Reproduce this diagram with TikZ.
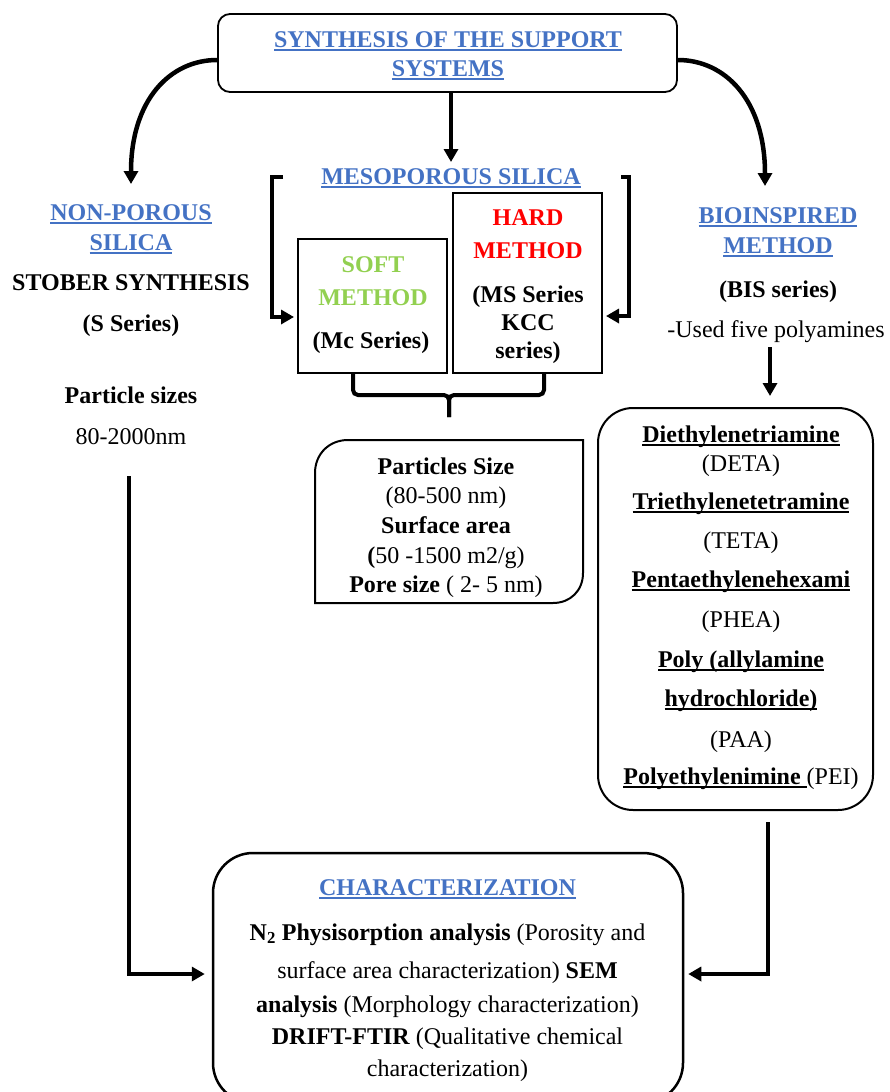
\documentclass[tikz,border=0pt]{standalone}
\usepackage{fontspec}
\setmainfont{Liberation Serif}
\usetikzlibrary{arrows.meta}
\definecolor{hblue}{RGB}{68,114,196}
\definecolor{sgreen}{RGB}{146,208,80}
\definecolor{hred}{RGB}{255,0,0}
\newsavebox{\myulbox}
\newcommand{\myul}[1]{\sbox{\myulbox}{#1}\rlap{\rule[-3.5pt]{\wd\myulbox}{1.6pt}}\usebox{\myulbox}}
\tikzset{
  txt/.style={font=\fontsize{24}{30}\selectfont, inner sep=0pt, anchor=base},
  bf/.style={font=\fontsize{24}{30}\selectfont\bfseries, inner sep=0pt, anchor=base},
  head/.style={bf, text=hblue},
  arr/.style={line width=4.5pt, line join=miter, -{Triangle[length=13pt,width=14pt]}},
  box/.style={draw, line width=1.8pt, inner sep=0pt},
}
\begin{document}
\begin{tikzpicture}[x=1pt,y=-1pt]
\clip (0,0) rectangle (889,1092);
\useasboundingbox (0,0) rectangle (889,1092);

% top box
\node[box, rounded corners=12pt, minimum width=459pt, minimum height=78pt] (top) at (447.5,53) {};
\node[head] (t1) at (448,47) {\myul{SYNTHESIS OF THE SUPPORT}};
\node[head] (t2) at (448,76) {\myul{SYSTEMS}};

% left column
\node[head] (np1) at (131,220) {\myul{NON-POROUS}};
\node[head] (np2) at (131,250) {\myul{SILICA}};
\node[bf] (np3) at (131,290) {STOBER SYNTHESIS};
\node[bf] (np4) at (131,331) {(S Series)};
\node[bf] (np5) at (131,403) {Particle sizes};
\node[txt] (np6) at (131,444) {80-2000nm};

% right column
\node[head] (bi1) at (778,223) {\myul{BIOINSPIRED}};
\node[head] (bi2) at (778,253) {\myul{METHOD}};
\node[bf] (bi3) at (778,297) {(BIS series)};
\node[txt] (bi4) at (776,337) {-Used five polyamines};

% mesoporous
\node[head] (meso) at (451,184) {\myul{MESOPOROUS SILICA}};
\node[box, line width=2pt, minimum width=149pt, minimum height=134pt] (soft) at (372.5,306) {};
\node[bf, text=sgreen] (s1) at (373,272) {SOFT};
\node[bf, text=sgreen] (s2) at (373,305) {METHOD};
\node[bf] (s3) at (371,348) {(Mc Series)};
\node[box, line width=2pt, minimum width=149pt, minimum height=180pt] (hard) at (527.5,283) {};
\node[bf, text=hred] (h1) at (528,225) {HARD};
\node[bf, text=hred] (h2) at (528,258) {METHOD};
\node[bf] (h3) at (528,302) {(MS Series};
\node[bf] (h4) at (528,330) {KCC};
\node[bf] (h5) at (528,358) {series)};

% brace
\draw[line width=4pt, rounded corners=5pt] (353,373) -- (353,395) -- (449,395) -- (449,417);
\draw[line width=4pt, rounded corners=5pt] (544,373) -- (544,395) -- (449,395) -- (449,417);

% particles box
\node[inner sep=0pt, minimum width=268pt, minimum height=163pt] (part) at (449,521.5) {};
\draw[line width=2pt] (315,603) -- (315,473) .. controls (315,454) and (329,440) .. (348,440)
  -- (583,440) -- (583,573) .. controls (583,591) and (570,603) .. (553,603) -- cycle;
\node[bf] (p1) at (446,474) {Particles Size};
\node[txt] (p2) at (446,503) {(80-500 nm)};
\node[bf] (p3) at (446,533) {Surface area};
\node[txt] (p4) at (446,563) {\textbf{(}50 -1500 m2/g)};
\node[txt] (p5) at (446,592) {\textbf{Pore size} ( 2- 5 nm)};

% polyamine box
\node[box, line width=2pt, rounded corners=35pt, minimum width=275pt, minimum height=402pt] (poly) at (735.5,609) {};
\node[bf, text=black] (a1) at (741,442) {\myul{Diethylenetriamine}};
\node[txt] (a2) at (741,471) {(DETA)};
\node[bf] (a3) at (741,509) {\myul{Triethylenetetramine}};
\node[txt] (a4) at (741,548) {(TETA)};
\node[bf] (a5) at (741,587) {\myul{Pentaethylenehexami}};
\node[txt] (a6) at (741,627) {(PHEA)};
\node[bf] (a7) at (741,667) {\myul{Poly (allylamine}};
\node[bf] (a8) at (741,706) {\myul{hydrochloride)}};
\node[txt] (a9) at (741,747) {(PAA)};
\node[txt] (a10) at (741,784) {\textbf{\myul{Polyethylenimine\ }}(PEI)};

% characterization box
\node[box, line width=2.5pt, rounded corners=40pt, minimum width=470pt, minimum height=250pt] (char) at (448,978) {};
\node[head] (c1) at (447.5,895) {\myul{CHARACTERIZATION}};
\node[txt] (c2) at (447.5,940) {\textbf{N\textsubscript{2} Physisorption analysis} (Porosity and};
\node[txt] (c3) at (447.5,978) {surface area characterization) \textbf{SEM}};
\node[txt] (c4) at (447.5,1012) {\textbf{analysis} (Morphology characterization)};
\node[txt] (c5) at (447.5,1044) {\textbf{DRIFT-FTIR} (Qualitative chemical};
\node[txt] (c6) at (447.5,1076) {characterization)};

% connectors
\coordinate (ltip) at (131,184);
\coordinate (rtip) at (765,186);
\coordinate (mtip) at (451,162);
\draw[arr] ([yshift=-7pt]top.west) .. controls (170,60) and (131,100) .. (ltip);
\draw[arr] ([yshift=-7pt]top.east) .. controls (725,60) and (765,100) .. (rtip);
\draw[arr] (top.south -| mtip) -- (mtip);

\coordinate (lb) at (283,177);
\coordinate (rb) at (621,177);
\draw[arr, shorten >=3pt] (lb) -- (272,177) -- (272,317) -- (soft.west |- 0,317);
\draw[arr, shorten >=3pt] (rb) -- (629,177) -- (629,316) -- (hard.east |- 0,316);

\coordinate (ua) at (770,347);
\coordinate (ub) at (770,396);
\draw[arr] (ua) -- (ub);

\coordinate (ls) at (129,476);
\draw[arr, shorten >=7pt] (ls) -- (129,974) -- (char.west |- 0,974);
\coordinate (rs) at (768,822);
\draw[arr, shorten >=4pt] (rs) -- (768,974) -- (char.east |- 0,974);
\end{tikzpicture}
\end{document}
